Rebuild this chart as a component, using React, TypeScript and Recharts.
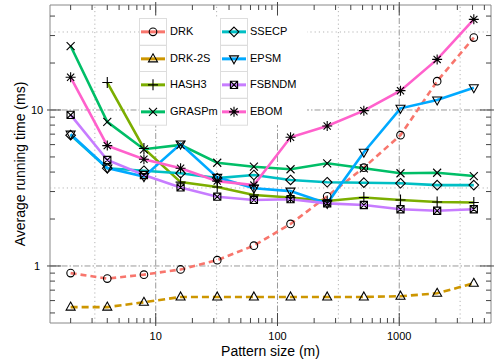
import { Legend, Line, LineChart, ReferenceArea, ReferenceLine, XAxis, YAxis } from 'recharts'

// pattern sizes (m)
const sizes = [2, 4, 8, 16, 32, 64, 128, 256, 512, 1024, 2048, 4096]

// average running time (ms), one list per algorithm
const drk = [0.9, 0.83, 0.88, 0.95, 1.09, 1.35, 1.86, 2.8, 4.27, 6.9, 15.3, 29.1]
const drk2s = [0.545, 0.545, 0.585, 0.633, 0.633, 0.633, 0.633, 0.633, 0.633, 0.64, 0.668, 0.775]
const hash3 = [null, 15.0, 5.67, 3.45, 3.21, 2.85, 2.75, 2.61, 2.75, 2.65, 2.57, 2.55]
const graspm = [25.7, 8.4, 5.6, 5.97, 4.59, 4.33, 4.17, 4.55, 4.23, 3.93, 3.96, 3.77]
const ssecp = [6.9, 4.23, 4.08, 3.93, 3.66, 3.83, 3.56, 3.44, 3.42, 3.39, 3.3, 3.3]
const epsm = [7.0, 4.25, 3.74, 6.05, 3.7, 3.15, 3.02, 2.52, 5.36, 10.25, 11.6, 13.9]
const fsbndm = [9.3, 4.78, 3.83, 3.19, 2.78, 2.65, 2.68, 2.52, 2.46, 2.31, 2.26, 2.31]
const ebom = [16.2, 5.91, 4.83, 4.23, 3.5, 3.3, 6.68, 7.9, 9.9, 13.3, 21.1, 38.1]

const xMajor = [10, 100, 1000]
const xMinor = [2, 3, 4, 5, 6, 7, 8, 9, 20, 30, 40, 50, 60, 70, 80, 90, 200, 300, 400, 500, 600, 700, 800, 900, 2000, 3000, 4000, 5000]
const yMajor = [1, 10]
const yMinor = [0.5, 0.6, 0.7, 0.8, 0.9, 2, 3, 4, 5, 6, 7, 8, 9, 20, 30, 40]
const xHalf = [3.1623, 31.623, 316.23, 3162.3]
const yHalf = [3.1623, 31.623]

const X_DOMAIN: [number, number] = [1.354, 5670]
const Y_DOMAIN: [number, number] = [0.431, 47.1]

const W = 495
const H = 364
const LEFT = 50
const TOP = 5
const RIGHT = 491
const BOTTOM = 323
const FONT = '"Liberation Sans", Arial, Helvetica, sans-serif'
const TICK = '#444'

const series = [
  { key: 'drk', name: 'DRK', values: drk, color: '#F8766D', marker: 'circle', dash: '6 4' },
  { key: 'drk2s', name: 'DRK-2S', values: drk2s, color: '#CD9600', marker: 'triangle', dash: '7 4' },
  { key: 'hash3', name: 'HASH3', values: hash3, color: '#7CAE00', marker: 'plus' },
  { key: 'graspm', name: 'GRASPm', values: graspm, color: '#00BE67', marker: 'cross' },
  { key: 'ssecp', name: 'SSECP', values: ssecp, color: '#00BFC4', marker: 'diamond' },
  { key: 'epsm', name: 'EPSM', values: epsm, color: '#00A9FF', marker: 'triangleDown' },
  { key: 'fsbndm', name: 'FSBNDM', values: fsbndm, color: '#C77CFF', marker: 'boxX' },
  { key: 'ebom', name: 'EBOM', values: ebom, color: '#FF61CC', marker: 'star' },
]

const data = sizes.map((m, i) => {
  const row: Record<string, number | null> = { m }
  series.forEach((s) => (row[s.key] = s.values[i]))
  return row
})

function Marker({ kind, cx, cy }: { kind: string; cx: number; cy: number }) {
  const st = { fill: 'none', stroke: '#000', strokeWidth: 1.1 }
  switch (kind) {
    case 'circle':
      return <circle cx={cx} cy={cy} r={3.8} {...st} />
    case 'triangle':
      return <path d={`M${cx},${cy - 5} L${cx + 4.5},${cy + 3} L${cx - 4.5},${cy + 3}Z`} {...st} />
    case 'triangleDown':
      return <path d={`M${cx},${cy + 5} L${cx + 4.5},${cy - 3} L${cx - 4.5},${cy - 3}Z`} {...st} />
    case 'plus':
      return <path d={`M${cx - 5},${cy}H${cx + 5}M${cx},${cy - 5.5}V${cy + 5.5}`} {...st} />
    case 'cross':
      return <path d={`M${cx - 4},${cy - 4}L${cx + 4},${cy + 4}M${cx - 4},${cy + 4}L${cx + 4},${cy - 4}`} {...st} />
    case 'diamond':
      return <path d={`M${cx},${cy - 4.8}L${cx + 4.8},${cy}L${cx},${cy + 4.8}L${cx - 4.8},${cy}Z`} {...st} />
    case 'boxX':
      return (
        <path
          d={`M${cx - 3.6},${cy - 3.6}h7.2v7.2h-7.2Z M${cx - 3.6},${cy - 3.6}L${cx + 3.6},${cy + 3.6}M${cx - 3.6},${cy + 3.6}L${cx + 3.6},${cy - 3.6}`}
          {...st}
        />
      )
    default:
      return (
        <path
          d={`M${cx - 5},${cy}H${cx + 5}M${cx},${cy - 5}V${cy + 5}M${cx - 3.6},${cy - 3.6}L${cx + 3.6},${cy + 3.6}M${cx - 3.6},${cy + 3.6}L${cx + 3.6},${cy - 3.6}`}
          {...st}
        />
      )
  }
}

function XTick(props: any) {
  const { x, payload } = props
  const major = xMajor.includes(payload.value)
  const len = major ? 10 : 5
  return (
    <g>
      <line x1={x} x2={x} y1={BOTTOM + (major ? 3 : 0)} y2={BOTTOM - len} stroke={TICK} />
      <line x1={x} x2={x} y1={TOP - (major ? 3 : 0)} y2={TOP + len} stroke={TICK} />
      {major && (
        <text x={x} y={BOTTOM + 13} textAnchor="middle" dominantBaseline="central" fontSize={11} fill="#000">
          {payload.value}
        </text>
      )}
    </g>
  )
}

function YTick(props: any) {
  const { y, payload } = props
  const major = yMajor.includes(payload.value)
  const len = major ? 11 : 5
  return (
    <g>
      <line x1={LEFT - (major ? 3 : 0)} x2={LEFT + len} y1={y} y2={y} stroke={TICK} />
      <line x1={RIGHT + (major ? 3 : 0)} x2={RIGHT - len} y1={y} y2={y} stroke={TICK} />
      {major && (
        <text x={37} y={y} textAnchor="middle" dominantBaseline="central" fontSize={11} fill="#000">
          {payload.value}
        </text>
      )}
    </g>
  )
}

function LegendBox() {
  const rowH = 26.7
  const cols = [
    { box: 0, label: 31 },
    { box: 81, label: 111 },
  ]
  return (
    <div style={{ position: 'relative', width: 168, height: 107, background: '#fff', fontFamily: FONT }}>
      {series.map((s, i) => {
        const col = cols[Math.floor(i / 4)]
        const row = i % 4
        const top = row * rowH
        return (
          <div key={s.key}>
            <svg
              width={28}
              height={rowH + 1}
              style={{ position: 'absolute', left: col.box, top, overflow: 'visible' }}
            >
              <rect x={0.5} y={0.5} width={27} height={rowH} fill="#fff" stroke="#ddd" />
              <line x1={2} x2={26} y1={rowH / 2 + 0.5} y2={rowH / 2 + 0.5} stroke={s.color} strokeWidth={3} />
              <Marker kind={s.marker} cx={14} cy={rowH / 2 + 0.5} />
            </svg>
            <span
              style={{
                position: 'absolute',
                left: col.label,
                top,
                lineHeight: `${rowH}px`,
                fontSize: 11,
                color: '#000',
                whiteSpace: 'nowrap',
              }}
            >
              {s.name}
            </span>
          </div>
        )
      })}
    </div>
  )
}

export default function App() {
  return (
    <div style={{ position: 'absolute', left: 0, top: 0, width: W, height: H, background: '#fff', fontFamily: FONT }}>
      <LineChart width={W} height={H} data={data} margin={{ top: TOP, right: W - RIGHT, bottom: 0, left: 0 }}>
        <XAxis
          dataKey="m"
          type="number"
          scale="log"
          domain={X_DOMAIN}
          allowDataOverflow
          ticks={[...xMinor, ...xMajor]}
          interval={0}
          tickSize={0}
          tickMargin={0}
          axisLine={false}
          tickLine={false}
          tick={XTick}
          height={BOTTOM - H < 0 ? H - BOTTOM : 41}
          label={{ value: 'Pattern size (m)', position: 'insideBottom', offset: 8, fontSize: 14, fill: '#000' }}
        />
        <YAxis
          type="number"
          scale="log"
          domain={Y_DOMAIN}
          allowDataOverflow
          ticks={[...yMinor, ...yMajor]}
          interval={0}
          tickSize={0}
          tickMargin={0}
          axisLine={false}
          tickLine={false}
          tick={YTick}
          width={LEFT}
          label={{
            content: () => (
              <text
                x={20}
                y={164}
                transform="rotate(-90 20 164)"
                textAnchor="middle"
                dominantBaseline="central"
                fontSize={14}
                fill="#000"
              >
                Average running time (ms)
              </text>
            ),
          }}
        />
        {xHalf.map((v) => (
          <ReferenceLine key={`xh${v}`} x={v} stroke="#b5b5b5" strokeDasharray="1.2 3" />
        ))}
        {xMajor.map((v) => (
          <ReferenceLine key={`xm${v}`} x={v} stroke="#999" strokeDasharray="6 2 1.5 2" />
        ))}
        {yHalf.map((v) => (
          <ReferenceLine key={`yh${v}`} y={v} stroke="#b5b5b5" strokeDasharray="1.2 3" />
        ))}
        {yMajor.map((v) => (
          <ReferenceLine key={`ym${v}`} y={v} stroke="#999" strokeDasharray="6 2 1.5 2" />
        ))}
        <ReferenceArea
          x1={X_DOMAIN[0]}
          x2={X_DOMAIN[1]}
          y1={Y_DOMAIN[0]}
          y2={Y_DOMAIN[1]}
          fill="none"
          stroke="#888"
          fillOpacity={0}
        />
        {series.map((s) => (
          <Line
            key={s.key}
            dataKey={s.key}
            name={s.name}
            stroke={s.color}
            strokeWidth={2.6}
            strokeDasharray={s.dash}
            isAnimationActive={false}
            dot={(p: any) =>
              p.cy == null || p.value == null ? (
                <g key={`${s.key}-${p.index}`} />
              ) : (
                <g key={`${s.key}-${p.index}`}>
                  <Marker kind={s.marker} cx={p.cx} cy={p.cy} />
                </g>
              )
            }
            activeDot={false}
          />
        ))}
        <Legend
          layout="vertical"
          align="center"
          verticalAlign="middle"
          content={() => <LegendBox />}
          wrapperStyle={{ position: 'absolute', left: 139, top: 18, width: 168, height: 107 }}
        />
      </LineChart>
    </div>
  )
}
